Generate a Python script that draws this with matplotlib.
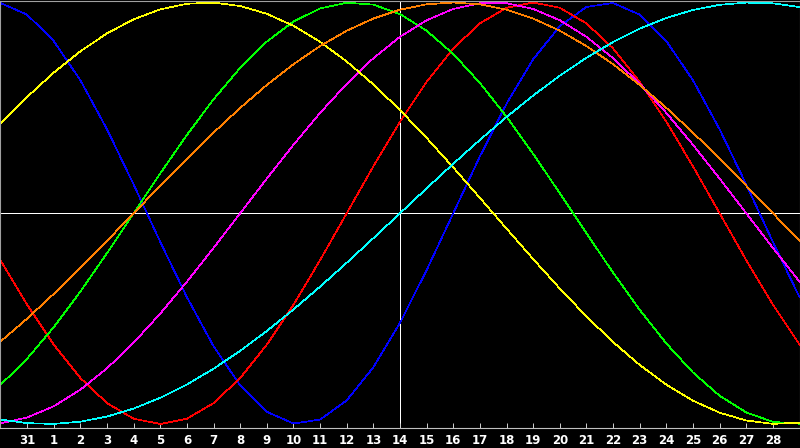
import numpy as np
import matplotlib
matplotlib.use("Agg")
import matplotlib.pyplot as plt

# Biorhythm chart: one month window, "today" marked by the crosshair

# days lived at the left edge of the chart (day before the "31")
start_days = 30619
n_points = 31

day_labels = ["31", "1", "2", "3", "4", "5", "6", "7", "8", "9", "10",
              "11", "12", "13", "14", "15", "16", "17", "18", "19", "20",
              "21", "22", "23", "24", "25", "26", "27", "28"]
today_pos = 14

cycle_names = ["physical", "emotional", "intellectual", "intuitive",
               "aesthetic", "awareness", "spiritual"]
cycle_periods = [23, 28, 33, 38, 43, 48, 53]
cycle_colors = ["#0000ff", "#ff0000", "#00ff00", "#ff00ff",
                "#ffff00", "#ff8000", "#00ffff"]

x = np.arange(-1, n_points - 1)
days = start_days + np.arange(n_points)

fig = plt.figure(figsize=(8, 4.48), dpi=100, facecolor="black")
ax = fig.add_axes([0.0006, 20 / 448, 0.9988, 427.5 / 448])
ax.set_facecolor("black")

# crosshair (below the curves)
ax.axhline(0, color="white", lw=0.7, antialiased=False, zorder=1)
ax.axvline(today_pos, color="white", lw=0.7, antialiased=False, zorder=1)

for name, period, col in zip(cycle_names, cycle_periods, cycle_colors):
    y = np.sin(2 * np.pi * days / period)
    ax.plot(x, y, color=col, lw=0.5, antialiased=False, zorder=2, label=name)

ax.set_xlim(-1, n_points - 2)
ax.set_ylim(-1.019, 1.0095)

ax.set_xticks(range(len(day_labels)))
ax.set_xticklabels(day_labels, fontsize=8.5, fontweight="bold", color="white")
ax.tick_params(axis="x", direction="in", length=3.6, width=0.7,
               color="#d0d0d0", pad=4)
ax.set_yticks([])

for side in ["top", "left", "right"]:
    ax.spines[side].set_color("#a0a0a0")
    ax.spines[side].set_linewidth(0.8)
ax.spines["bottom"].set_color("#c0c0c0")
ax.spines["bottom"].set_linewidth(0.8)

fig.savefig("out.png", dpi=100, facecolor="black")
